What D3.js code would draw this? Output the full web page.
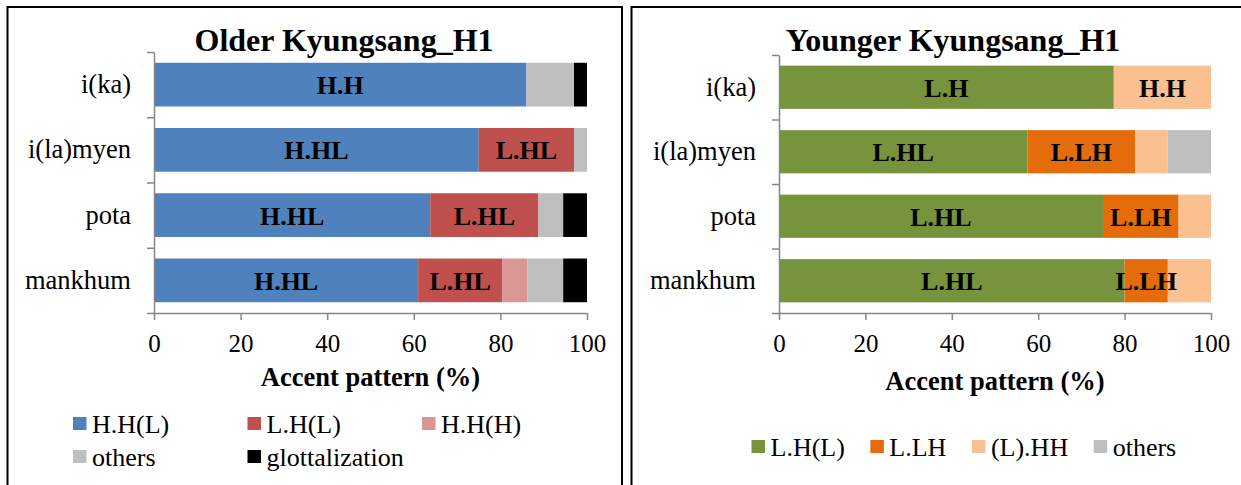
<!DOCTYPE html>
<html>
<head>
<meta charset="utf-8">
<script src="https://cdn.jsdelivr.net/npm/d3@7"></script>
<style>
  html, body { margin: 0; padding: 0; background: #fff; }
  svg { display: block; }
</style>
</head>
<body>
<svg id="chart" width="1241" height="485"></svg>
<script>
// Words (categories), shared by both panels
const words = ["i(ka)", "i(la)myen", "pota", "mankhum"];
const xTicks = [0, 20, 40, 60, 80, 100];

// Older Kyungsang speakers, H1 condition (% of tokens)
const olderHHL   = [86, 75, 63.8, 61];
const olderLHL   = [0, 22, 25, 19.4];
const olderHHH   = [0, 0, 0, 5.8];
const olderOther = [11, 3, 5.7, 8.3];
const olderGlott = [3, 0, 5.5, 5.5];
const olderNames = ["H.H(L)", "L.H(L)", "H.H(H)", "others", "glottalization"];
const olderLabelsHHL = ["H.H", "H.HL", "H.HL", "H.HL"];
const olderLabelsLHL = ["", "L.HL", "L.HL", "L.HL"];

// Younger Kyungsang speakers, H1 condition (% of tokens)
const youngerLHL   = [77.5, 57.5, 75, 80];
const youngerLLH   = [0, 25, 17.5, 10];
const youngerLHH   = [22.5, 7.5, 7.5, 10];
const youngerOther = [0, 10, 0, 0];
const youngerNames = ["L.H(L)", "L.LH", "(L).HH", "others"];
const youngerLabelsLHL = ["L.H", "L.HL", "L.HL", "L.HL"];
const youngerLabelsLLH = ["", "L.LH", "L.LH", "L.LH"];
const youngerLabelsLHH = ["H.H", "", "", ""];

const FONT = '"Liberation Serif"';
const AXIS_GREY = "#868686";

const svg = d3.select("#chart");

// panel frames
svg.append("rect").attr("x", 7.5).attr("y", 7).attr("width", 614.5).attr("height", 500)
  .attr("fill", "none").attr("stroke", "#000").attr("stroke-width", 2);
svg.append("rect").attr("x", 631.5).attr("y", 7).attr("width", 640).attr("height", 500)
  .attr("fill", "none").attr("stroke", "#000").attr("stroke-width", 2);

function txt(g, x, y, s) {
  return g.append("text")
    .attr("x", x).attr("y", y)
    .style("font-family", FONT)
    .attr("fill", "#000")
    .text(s);
}

function drawPanel(cfg) {
  const g = svg.append("g");
  const x = d3.scaleLinear().domain([0, 100]).range([cfg.x0, cfg.x1]);
  const y = d3.scaleBand().domain(words).range([cfg.top, cfg.bottom])
    .paddingInner(0.33).paddingOuter(0.165);

  // stack the series
  const rows = words.map((w, i) => {
    const r = { word: w };
    cfg.series.forEach(s => { r[s.name] = s.values[i]; });
    return r;
  });
  const stack = d3.stack().keys(cfg.series.map(s => s.name))(rows);

  stack.forEach((layer, li) => {
    const s = cfg.series[li];
    g.append("g").selectAll("rect").data(layer).join("rect")
      .attr("x", d => x(d[0]))
      .attr("y", d => y(d.data.word))
      .attr("width", d => x(d[1]) - x(d[0]))
      .attr("height", y.bandwidth())
      .attr("fill", s.color);
  });

  // segment labels
  stack.forEach((layer, li) => {
    const s = cfg.series[li];
    if (!s.labels) return;
    layer.forEach((d, i) => {
      if (!s.labels[i]) return;
      txt(g, (x(d[0]) + x(d[1])) / 2, y(d.data.word) + y.bandwidth() / 2 + 9.5, s.labels[i])
        .attr("text-anchor", "middle")
        .attr("font-weight", "bold")
        .attr("font-size", 26);
    });
  });

  // category axis: boundary ticks
  const yb = d3.scaleLinear().domain([0, words.length]).range([cfg.top, cfg.bottom]);
  const yAxis = g.append("g").attr("transform", `translate(${cfg.x0},0)`)
    .call(d3.axisLeft(yb).tickValues(d3.range(words.length + 1))
      .tickFormat("").tickSizeInner(7).tickSizeOuter(0));
  yAxis.selectAll("path,line").attr("stroke", AXIS_GREY).attr("stroke-width", 1.5);

  words.forEach(w => {
    txt(g, cfg.x0 - 23, y(w) + y.bandwidth() / 2 + 8.5, w)
      .attr("text-anchor", "end")
      .attr("font-size", 26.5);
  });

  // value axis
  const xAxis = g.append("g").attr("transform", `translate(0,${cfg.bottom})`)
    .call(d3.axisBottom(x).tickValues(xTicks).tickSizeInner(7).tickSizeOuter(0).tickPadding(14));
  xAxis.attr("font-family", null).style("font-family", FONT);
  xAxis.selectAll("path,line").attr("stroke", AXIS_GREY).attr("stroke-width", 1.5);
  xAxis.selectAll("text")
    .style("font-family", FONT)
    .attr("font-size", 25)
    .attr("fill", "#000");

  txt(g, (cfg.x0 + cfg.x1) / 2, cfg.axisTitleY, "Accent pattern (%)")
    .attr("text-anchor", "middle")
    .attr("font-weight", "bold")
    .attr("font-size", 26.5);

  txt(g, cfg.titleX, cfg.titleY, cfg.title)
    .attr("text-anchor", "middle")
    .attr("font-weight", "bold")
    .attr("font-size", 32);

  // legend
  cfg.legend(g);
}

function legendItem(g, x, cy, color, label) {
  g.append("rect").attr("x", x).attr("y", cy - 6.5).attr("width", 13.5).attr("height", 13)
    .attr("fill", color);
  return txt(g, x + 19, cy + 9.5, label).attr("font-size", 26);
}

const olderColors = ["#4F81BD", "#C0504D", "#D99694", "#BFBFBF", "#000000"];
const youngerColors = ["#77933C", "#E46C0A", "#FAC090", "#BFBFBF"];

drawPanel({
  x0: 154, x1: 587, top: 52, bottom: 313,
  title: "Older Kyungsang_H1", titleX: 344, titleY: 51,
  axisTitleY: 386,
  series: [
    { name: olderNames[0], values: olderHHL, color: olderColors[0], labels: olderLabelsHHL },
    { name: olderNames[1], values: olderLHL, color: olderColors[1], labels: olderLabelsLHL },
    { name: olderNames[2], values: olderHHH, color: olderColors[2] },
    { name: olderNames[3], values: olderOther, color: olderColors[3] },
    { name: olderNames[4], values: olderGlott, color: olderColors[4] }
  ],
  legend: g => {
    olderNames.forEach((n, i) => {
      const col = i % 3, row = Math.floor(i / 3);
      legendItem(g, 73 + col * 174.5, 423.5 + row * 33, olderColors[i], n);
    });
  }
});

drawPanel({
  x0: 779, x1: 1211, top: 55, bottom: 313,
  title: "Younger Kyungsang_H1", titleX: 953, titleY: 51,
  axisTitleY: 390,
  series: [
    { name: youngerNames[0], values: youngerLHL, color: youngerColors[0], labels: youngerLabelsLHL },
    { name: youngerNames[1], values: youngerLLH, color: youngerColors[1], labels: youngerLabelsLLH },
    { name: youngerNames[2], values: youngerLHH, color: youngerColors[2], labels: youngerLabelsLHH },
    { name: youngerNames[3], values: youngerOther, color: youngerColors[3] }
  ],
  legend: g => {
    let lx = 751.5;
    youngerNames.forEach((n, i) => {
      const t = legendItem(g, lx, 446.5, youngerColors[i], n);
      lx = lx + 19 + t.node().getComputedTextLength() + 25.5;
    });
  }
});
</script>
</body>
</html>
